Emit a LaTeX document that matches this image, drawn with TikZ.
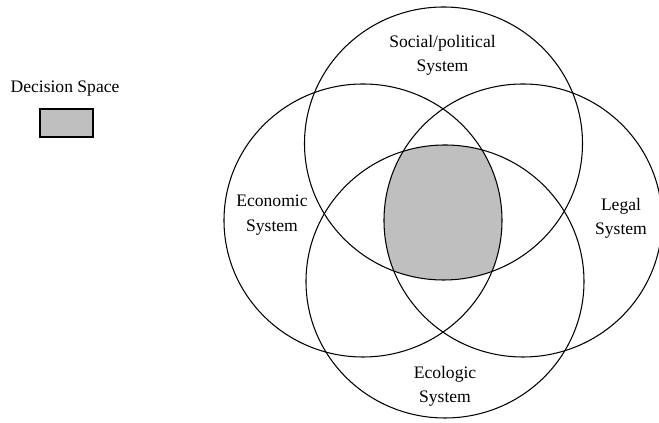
\documentclass[tikz,border=0pt]{standalone}
\usepackage{fontspec}
\setmainfont{Liberation Serif}
\begin{document}
\begin{tikzpicture}[font=\fontsize{10}{14}\selectfont]
    \useasboundingbox (0,0) rectangle (13.18,8.46);
    \begin{scope}
    \clip (8.87,5.59) ellipse (2.78 and 2.73);
    \clip (8.90,2.83) ellipse (2.78 and 2.73);
    \clip (7.26,4.05) ellipse (2.78 and 2.73);
    \fill[black!25] (10.46,4.05) ellipse (2.78 and 2.73);
    \end{scope}
    \draw[line width=0.6pt] (8.87,5.59) ellipse (2.78 and 2.73);
    \draw[line width=0.6pt] (8.90,2.83) ellipse (2.78 and 2.73);
    \draw[line width=0.6pt] (7.26,4.05) ellipse (2.78 and 2.73);
    \draw[line width=0.6pt] (10.46,4.05) ellipse (2.78 and 2.73);
    \node[align=center] (social) at (8.85,7.35) {Social/political\\System};
    \node[align=center] (economic) at (5.44,4.16) {Economic\\System};
    \node[align=center] (legal) at (12.42,4.09) {Legal\\System};
    \node[align=center] (ecologic) at (8.90,0.73) {Ecologic\\System};
    \node (decision) at (1.30,6.68) {Decision Space};
    \draw[line width=0.6pt, fill=black!25] (0.8,5.72) rectangle (1.86,6.28);
\end{tikzpicture}
\end{document}
